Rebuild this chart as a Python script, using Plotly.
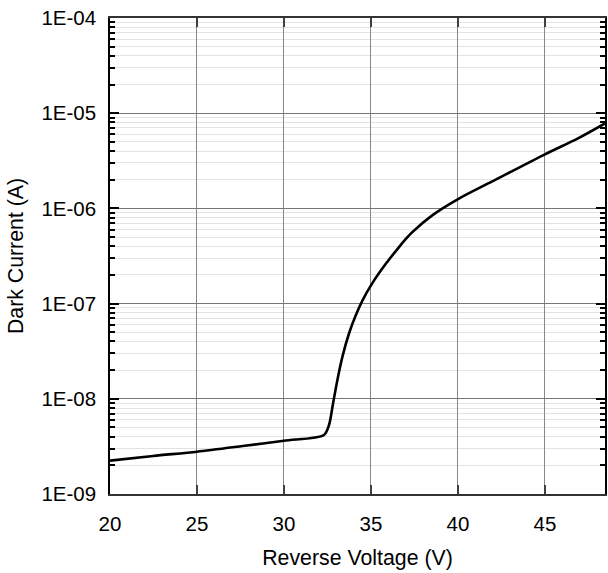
import plotly.graph_objects as go

voltage = [20, 22.48, 25, 27.63, 30, 32.3, 32.59, 32.82, 33.07, 33.36, 33.74, 34.12, 34.5, 35.07, 35.84, 36.6, 36.98, 37.36, 38.5, 40.03, 41.94, 45.0, 46.9, 48.45]
current = [2.24e-9, 2.51e-9, 2.78e-9, 3.19e-9, 3.63e-9, 4.17e-9, 5.31e-9, 8.95e-9, 1.58e-8, 2.77e-8, 4.88e-8, 7.5e-8, 1.07e-7, 1.63e-7, 2.60e-7, 3.90e-7, 4.72e-7, 5.6e-7, 8.4e-7, 1.26e-6, 1.91e-6, 3.70e-6, 5.44e-6, 7.8e-6]

y_tickvals = [1e-9, 1e-8, 1e-7, 1e-6, 1e-5, 1e-4]
y_ticktext = ["1E-09", "1E-08", "1E-07", "1E-06", "1E-05", "1E-04"]
x_tickvals = [20, 25, 30, 35, 40, 45]

minor_vals = [m * d for d in y_tickvals[:-1] for m in range(2, 10)]

fam = "Liberation Sans, Arial, sans-serif"
tick_font = dict(family=fam, size=20.5, color="#000000")
title_font = dict(family=fam, size=21.3, color="#000000")

fig = go.Figure()
fig.add_trace(go.Scatter(x=voltage, y=current, mode="lines",
                         line=dict(color="black", width=2.6, shape="spline", smoothing=0.8),
                         showlegend=False))

fig.update_layout(
    width=608, height=573,
    margin=dict(l=110, r=1, t=18, b=79),
    paper_bgcolor="white", plot_bgcolor="white",
    font=tick_font,
)
fig.update_xaxes(
    range=[20, 48.45],
    tickmode="array", tickvals=x_tickvals,
    ticks="inside", ticklen=9, tickwidth=2, tickcolor="#404040",
    showline=True, linecolor="#333333", linewidth=2, mirror="allticks",
    showgrid=True, gridcolor="#888888", gridwidth=1,
    zeroline=False,
    ticklabelstandoff=10,
    title=dict(text="Reverse Voltage (V)", font=title_font, standoff=16),
    tickfont=tick_font,
)
fig.update_yaxes(
    type="log", range=[-9, -4],
    tickmode="array", tickvals=y_tickvals, ticktext=y_ticktext,
    ticks="inside", ticklen=9, tickwidth=1.5, tickcolor="#000000",
    showline=True, linecolor="#000000", linewidth=1.5, mirror="allticks",
    showgrid=True, gridcolor="#777777", gridwidth=1,
    minor=dict(tickmode="array", tickvals=minor_vals, ticks="inside", ticklen=5,
               tickcolor="#000000", showgrid=True, gridcolor="#e3e3e3", gridwidth=1),
    zeroline=False,
    ticklabelstandoff=8,
    title=dict(text="Dark Current (A)", font=title_font, standoff=12),
    tickfont=tick_font,
)

fig.write_html("out.html")
